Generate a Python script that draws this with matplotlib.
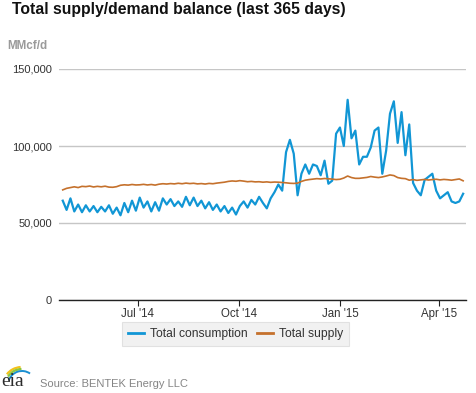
import matplotlib
matplotlib.use("Agg")
import matplotlib.pyplot as plt
import matplotlib.dates as mdates
from matplotlib.patches import Arc
import pandas as pd

plt.rcParams['font.family'] = ['Liberation Sans', 'DejaVu Sans']

start_date = "2014-04-24"
step = "84h"   # one reading every 3.5 days

consumption = [
    64500, 58500, 66000, 57500, 62000, 57000, 61500, 57500, 61000, 57000,
    60500, 57500, 61500, 56000, 60000, 55000, 63000, 57000, 64500, 58000,
    66500, 60000, 64000, 57500, 63500, 58000, 66000, 62000, 65500, 61000,
    64000, 60500, 67000, 61500, 66500, 61000, 64500, 59500, 63500, 58500,
    62000, 57500, 61000, 56500, 60000, 55500,
    61000, 64000, 60000, 65000, 62000, 67000, 63000, 59500, 66000, 70000,
    75000, 71000,
    96000, 104000, 95000, 68000, 82000, 88000, 82000, 88000, 87000, 81000,
    90500, 75500, 77500, 108000, 112000, 100000, 130000, 105000, 110000, 88000,
    93000, 93000, 99000, 110000, 112000, 82000, 97000, 121000, 129000, 102000,
    122000, 94000, 114000, 76000, 71000, 68000, 78000, 80000, 82000, 71000,
    66000, 68000, 70000, 64000, 63000, 64000, 69000,
]

supply = [
    71500, 72500, 73000, 73500, 73000, 73800, 73600, 74000, 73400, 73800,
    73500, 73900, 73300, 73200, 73600, 74500, 74800, 74600, 75000, 74700,
    74800, 75100, 74700, 75000, 74600, 75200, 75500, 75300, 75600, 75400,
    75800, 75500, 75900, 75600, 75800, 75400, 75600, 75300, 75700, 75500,
    75900, 76200, 76500, 77000, 77300, 77100,
    77500, 77200, 76800, 77000, 76700, 76800, 76500, 76700, 76400, 76600,
    76500, 76300,
    76100, 75800, 75700, 75900, 77000, 77800, 78200, 78500, 78800, 78600,
    78900, 78700, 78500, 78200, 78400, 79200, 80500, 79500, 79000, 79000,
    79300, 79600, 80200, 79800, 79500, 79900, 80500, 81200, 80800, 79500,
    79000, 78800, 77800, 78200, 77700, 78000, 78300, 77900, 78200, 78400,
    78000, 78300, 78100, 77800, 78200, 78600, 77400,
]

tick_dates = ["2014-07-01", "2014-10-01", "2015-01-01", "2015-04-01"]
tick_labels = ["Jul '14", "Oct '14", "Jan '15", "Apr '15"]
y_ticks = [0, 50000, 100000, 150000]
y_tick_labels = ["0", "50,000", "100,000", "150,000"]

dates = pd.date_range(start_date, periods=len(consumption), freq=step)

W, H = 477, 393
fig = plt.figure(figsize=(W / 100, H / 100), dpi=100)
fig.patch.set_facecolor("white")

ax = fig.add_axes([59 / W, 1 - 300 / H, (466 - 59) / W, (300 - 69) / H])
blue = "#1196d5"
orange = "#c5712c"
l1, = ax.plot(dates, consumption, color=blue, lw=1.6, solid_joinstyle="round", zorder=3)
l2, = ax.plot(dates, supply, color=orange, lw=1.2, zorder=3)

t0 = pd.Timestamp(start_date)
ax.set_xlim(t0 - pd.Timedelta(days=3.4), t0 + pd.Timedelta(days=366.6))
ax.set_ylim(0, 150000)
ax.set_yticks(y_ticks)
ax.set_yticklabels(y_tick_labels)
ax.set_xticks(pd.to_datetime(tick_dates))
ax.set_xticklabels(tick_labels)

for s in ["top", "left", "right"]:
    ax.spines[s].set_visible(False)
ax.spines["bottom"].set_color("#222222")
ax.spines["bottom"].set_linewidth(1.0)
ax.yaxis.grid(True, color="#c6c6c6", lw=1.0)
ax.set_axisbelow(True)
ax.tick_params(axis="y", length=0, pad=5, labelsize=8, labelcolor="#333333")
ax.tick_params(axis="x", length=4, width=0.8, color="#222222", pad=1.5,
               labelsize=8.3, labelcolor="#333333")

fig.text(12 / W, 1 - 2 / H, "Total supply/demand balance (last 365 days)",
         fontsize=11.3, fontweight="bold", color="#111111", va="top", ha="left")
fig.text(7 / W, 1 - 46 / H, "MMcf/d", fontsize=8.4, fontweight="bold",
         color="#9a9a9a", va="center", ha="left")

leg = fig.legend([l1, l2], ["Total consumption", "Total supply"],
                 loc="center", bbox_to_anchor=(235.5 / W, 1 - 334 / H),
                 ncol=2, frameon=True, fancybox=False, fontsize=8.7,
                 handlelength=1.35, handletextpad=0.45, columnspacing=0.8,
                 borderpad=0.5, borderaxespad=0)
leg.get_frame().set_facecolor("#eeeeee")
leg.get_frame().set_edgecolor("#dcdcdc")
leg.get_frame().set_linewidth(0.8)
for t in leg.get_texts():
    t.set_color("#333333")
for h in leg.get_lines():
    h.set_linewidth(2.0)

# eia logo
lax = fig.add_axes([0, 0, 36 / W, 36 / H])
lax.set_xlim(0, 36)
lax.set_ylim(0, 36)
lax.axis("off")
lax.text(1, 7, "eia", family="Liberation Serif", fontsize=14, color="#2b2b2b",
         ha="left", va="baseline")
lax.add_patch(Arc((22, 10), 36, 32, theta1=95, theta2=150, color="#f2c21b", lw=1.6))
lax.add_patch(Arc((22, 9), 32, 30, theta1=92, theta2=152, color="#8cc63f", lw=1.6))
lax.add_patch(Arc((22, 8), 28, 28, theta1=55, theta2=160, color="#1a8fd1", lw=1.4))

fig.text(40 / W, 1 - 384 / H, "Source: BENTEK Energy LLC", fontsize=8,
         color="#858585", va="center", ha="left")

fig.savefig("out.png", dpi=100)
